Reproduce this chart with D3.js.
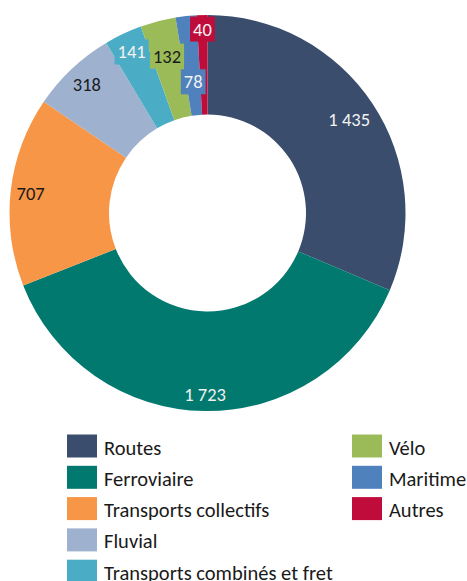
<!DOCTYPE html>
<html><head><meta charset="utf-8">
<script src="https://cdn.jsdelivr.net/npm/d3@7"></script>
<style>html,body{margin:0;padding:0;background:#fff;overflow:hidden}svg{display:block}</style>
</head><body>
<svg id="chart" width="467" height="581"></svg>
<script>
const categories = ["Routes","Ferroviaire","Transports collectifs","Fluvial","Transports combinés et fret","Vélo","Maritime","Autres"];
const values = [1435,1723,707,318,141,132,78,40];
const colors = ["#3a4d6d","#02796f","#f79646","#9eb1cf","#4bacc6","#9bbb59","#4f81bd","#c00c3b"];
// label layout (not data)
const labelRadius = [170,182,178,176,178,162,132,184];
const labelColor = ["#f2f2f2","#f2f2f2","#1a1a1a","#1a1a1a","#f2f2f2","#1a1a1a","#f2f2f2","#f2f2f2"];
const labelBox = [false,false,false,false,true,true,true,true];

const FONT = "Carlito, Lato, sans-serif";
const svg = d3.select("#chart");
const cx = 207.5, cy = 213, R = 198, r0 = 98.5;
const fr = d3.formatLocale({decimal:",",thousands:"\u00a0",grouping:[3],currency:["","\u00a0€"]});
const fmt = fr.format(",d");

const data = categories.map((c,i)=>({cat:c,value:values[i],i}));
const pie = d3.pie().value(d=>d.value).sort(null);
const arcs = pie(data);
const arc = d3.arc().innerRadius(r0).outerRadius(R);
const g = svg.append("g").attr("transform",`translate(${cx},${cy})`);
g.selectAll("path").data(arcs).join("path")
  .attr("d",arc).attr("fill",d=>colors[d.data.i]);

const lg = g.append("g");
arcs.forEach(a=>{
  const i=a.data.i;
  const ang=(a.startAngle+a.endAngle)/2;
  const x=labelRadius[i]*Math.sin(ang), y=-labelRadius[i]*Math.cos(ang);
  const grp=lg.append("g");
  const t=grp.append("text").attr("x",x).attr("y",y)
    .attr("text-anchor","middle").attr("dominant-baseline","central")
    .attr("font-family",FONT).attr("font-size",18.5).attr("fill",labelColor[i])
    .text(fmt(a.data.value));
  if(labelBox[i]){
    const bb=t.node().getBBox();
    grp.insert("rect","text").attr("x",bb.x-3).attr("y",bb.y-1).attr("width",bb.width+6).attr("height",bb.height+2)
      .attr("fill",colors[i]);
  }
});

// legend
const legendCols = [[0,1,2,3,4],[5,6,7]];
const colX = [67,352];
const rowY0 = 434.5, rowStep = 31.3;
legendCols.forEach((col,ci)=>{
  col.forEach((idx,ri)=>{
    const y=rowY0+ri*rowStep;
    svg.append("rect").attr("x",colX[ci]).attr("y",y).attr("width",30).attr("height",23)
      .attr("fill",colors[idx]);
    svg.append("text").attr("x",colX[ci]+37).attr("y",y+20)
      .attr("font-family",FONT).attr("font-size",20.5).attr("fill","#1a1a1a")
      .text(categories[idx]);
  });
});
</script>
</body></html>
